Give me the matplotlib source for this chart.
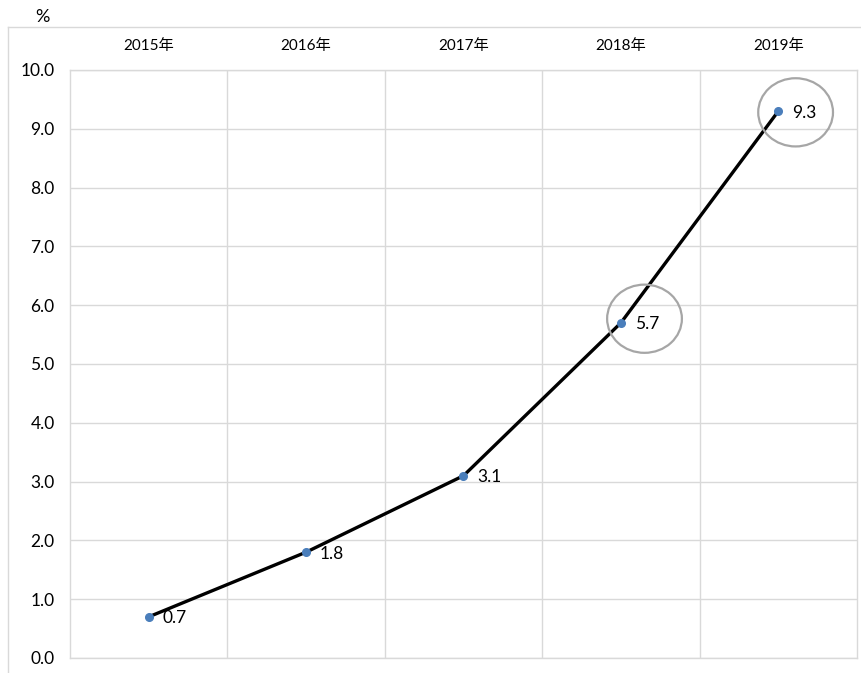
import matplotlib.pyplot as plt
from matplotlib.lines import Line2D
from matplotlib.patches import Ellipse

plt.rcParams["font.family"] = ["Lato", "Noto Sans CJK SC", "DejaVu Sans"]

years = ["2015年", "2016年", "2017年", "2018年", "2019年"]
values = [0.7, 1.8, 3.1, 5.7, 9.3]
y_ticks = [0.0, 1.0, 2.0, 3.0, 4.0, 5.0, 6.0, 7.0, 8.0, 9.0, 10.0]

GRID = "#D9D9D9"
MARKER = "#4A7EBB"

fig = plt.figure(figsize=(8.62, 6.73), dpi=100)
ax = fig.add_axes([70 / 862, 1 - 658 / 673, (857 - 70) / 862, (658 - 70) / 673])

x = list(range(len(years)))
ax.plot(x, values, color="black", linewidth=2.4, zorder=3)
ax.plot(x, values, linestyle="none", marker="o", markersize=5.5,
        color=MARKER, zorder=4)

for xi, v in zip(x, values):
    ax.annotate(f"{v:.1f}", (xi, v), xytext=(10, -1), textcoords="offset points",
                ha="left", va="center", fontsize=12.5, color="black", zorder=5)

# highlight rings on the last two years
for cx, cy in [(3.15, 5.77), (4.11, 9.28)]:
    ax.add_patch(Ellipse((cx, cy), width=0.475, height=1.16, fill=False,
                         edgecolor="#A6A6A6", linewidth=1.6, zorder=5))

ax.set_xlim(-0.5, len(years) - 0.5)
ax.set_ylim(0, 10)
ax.set_yticks(y_ticks)
ax.set_yticklabels([f"{t:.1f}" for t in y_ticks], fontsize=12.5)
ax.set_xticks(x)
ax.set_xticklabels(years, fontsize=11)
ax.xaxis.tick_top()
ax.tick_params(axis="x", length=0, pad=12)
ax.tick_params(axis="y", length=0, pad=11)

ax.set_xticks([i + 0.5 for i in x[:-1]], minor=True)
ax.grid(axis="y", which="major", color=GRID, linewidth=1)
ax.grid(axis="x", which="minor", color=GRID, linewidth=1)
ax.tick_params(axis="x", which="minor", length=0)
ax.set_axisbelow(True)
for side in ax.spines.values():
    side.set_color(GRID)
    side.set_linewidth(1)

# chart area frame (left and top edges)
fig.add_artist(Line2D([8 / 862, 8 / 862], [0, 1 - 27 / 673],
                      transform=fig.transFigure, color=GRID, linewidth=1))
fig.add_artist(Line2D([8 / 862, 1], [1 - 27 / 673, 1 - 27 / 673],
                      transform=fig.transFigure, color=GRID, linewidth=1))

fig.text(42 / 862, 1 - 17 / 673, "%", ha="center", va="center", fontsize=13)

fig.savefig("out.png", dpi=100)
